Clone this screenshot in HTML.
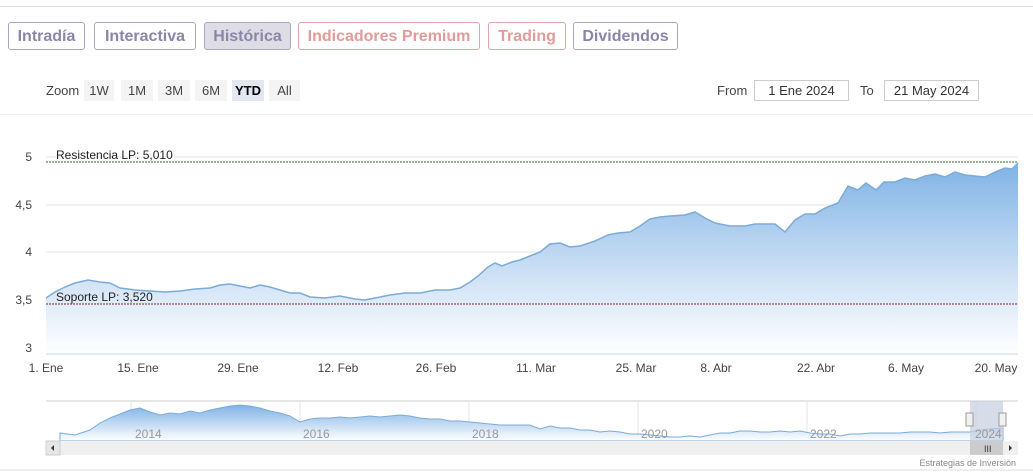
<!DOCTYPE html>
<html><head><meta charset="utf-8"><style>
body{margin:0;width:1033px;height:476px;background:#fff;font-family:"Liberation Sans",sans-serif;position:relative;overflow:hidden}
.tab{position:absolute;top:22px;height:28px;border:1px solid #a9a5be;border-radius:3px;font-size:16px;font-weight:bold;line-height:28px;text-align:center;color:#8a86aa;box-sizing:border-box}
.r{border-color:#e0a5a5;color:#e29a9a}
.z{position:absolute;top:80px;height:21px;background:#f4f4f4;font-size:13px;line-height:21px;text-align:center;color:#444}
.lbl{position:absolute;font-size:13px;color:#444}
.box{position:absolute;top:80px;height:21px;border:1px solid #ccc;font-size:13px;line-height:20px;text-align:center;box-sizing:border-box;color:#333}
</style></head><body>
<div style="position:absolute;left:0;top:6px;width:1033px;height:1px;background:#ddd"></div>
<div class="tab" style="left:8px;width:77px">Intradía</div>
<div class="tab" style="left:94px;width:102px">Interactiva</div>
<div class="tab" style="left:204px;width:87px;background:#dedde6">Histórica</div>
<div class="tab r" style="left:298px;width:182px">Indicadores Premium</div>
<div class="tab r" style="left:488px;width:78px">Trading</div>
<div class="tab" style="left:573px;width:105px">Dividendos</div>
<div class="lbl" style="left:46px;top:83px">Zoom</div>
<div class="z" style="left:84px;width:30px">1W</div>
<div class="z" style="left:121px;width:32px">1M</div>
<div class="z" style="left:158px;width:32px">3M</div>
<div class="z" style="left:195px;width:32px">6M</div>
<div class="z" style="left:232px;width:32px;background:#e2e7f0;font-weight:bold;color:#000">YTD</div>
<div class="z" style="left:269px;width:31px">All</div>
<div class="lbl" style="left:717px;top:83px">From</div>
<div class="box" style="left:754px;width:95px">1 Ene 2024</div>
<div class="lbl" style="left:860px;top:83px">To</div>
<div class="box" style="left:884px;width:95px">21 May 2024</div>
<div style="position:absolute;left:0;top:114px;width:1033px;height:1px;background:#eee"></div>
<svg width="1033" height="476" style="position:absolute;left:0;top:0" font-family="Liberation Sans,sans-serif">
<defs><linearGradient id="g" x1="0" y1="0" x2="0" y2="1"><stop offset="0" stop-color="#7fb2e5"/><stop offset="1" stop-color="#fff" stop-opacity="0.9"/></linearGradient>
<linearGradient id="g2" x1="0" y1="0" x2="0" y2="1"><stop offset="0" stop-color="#7fb2e5"/><stop offset="1" stop-color="#fff"/></linearGradient></defs>
<g stroke="#e6e6e6"><line x1="46" x2="1018" y1="157" y2="157"/><line x1="46" x2="1018" y1="205" y2="205"/><line x1="46" x2="1018" y1="252" y2="252"/><line x1="46" x2="1018" y1="300" y2="300"/><line x1="46" x2="1018" y1="348" y2="348"/></g>
<g font-size="12" fill="#444" text-anchor="end"><text x="32" y="161">5</text><text x="32" y="209">4,5</text><text x="32" y="256">4</text><text x="32" y="304">3,5</text><text x="32" y="352">3</text></g>
<path fill="url(#g)" d="M46,298 L55,292 65,287 75,283 88,280 100,282 110,283 120,288 135,290 150,291 165,292 180,291 195,289 210,288 220,285 230,284 240,286 250,288 260,285 270,287 280,290 290,293 300,293 310,297 325,298 340,296 355,299 365,300 375,298 390,295 405,293 420,293 435,290 450,290 460,288 470,282 478,276 488,267 495,263 502,266 512,262 520,260 530,256 540,252 550,244 560,243 570,247 580,246 595,241 608,235 618,233 630,232 640,226 650,219 660,217 670,216 685,215 695,212 705,218 715,223 730,226 745,226 755,224 765,224 775,224 785,232 795,220 805,214 815,214 825,208 838,203 848,186 858,190 866,183 876,190 884,182 895,182 905,178 915,180 925,176 935,174 945,177 955,172 965,175 975,176 985,177 995,172 1005,168 1012,169 1018,163 L1018,354 L46,354Z"/>
<path fill="none" stroke="#7cabd9" stroke-width="1.5" d="M46,298 L55,292 65,287 75,283 88,280 100,282 110,283 120,288 135,290 150,291 165,292 180,291 195,289 210,288 220,285 230,284 240,286 250,288 260,285 270,287 280,290 290,293 300,293 310,297 325,298 340,296 355,299 365,300 375,298 390,295 405,293 420,293 435,290 450,290 460,288 470,282 478,276 488,267 495,263 502,266 512,262 520,260 530,256 540,252 550,244 560,243 570,247 580,246 595,241 608,235 618,233 630,232 640,226 650,219 660,217 670,216 685,215 695,212 705,218 715,223 730,226 745,226 755,224 765,224 775,224 785,232 795,220 805,214 815,214 825,208 838,203 848,186 858,190 866,183 876,190 884,182 895,182 905,178 915,180 925,176 935,174 945,177 955,172 965,175 975,176 985,177 995,172 1005,168 1012,169 1018,163"/>
<line x1="46" x2="1018" y1="162" y2="162" stroke="#2a6a2a" stroke-dasharray="2,1"/>
<line x1="46" x2="1018" y1="304" y2="304" stroke="#8a1a1a" stroke-dasharray="2,1"/>
<text x="56" y="159" font-size="12" fill="#222">Resistencia LP: 5,010</text>
<text x="56" y="301" font-size="12" fill="#222">Soporte LP: 3,520</text>
<line x1="46" x2="1018" y1="354" y2="354" stroke="#ccd6eb"/>
<g font-size="12" fill="#444" text-anchor="middle"><text x="46" y="372">1. Ene</text><text x="138" y="372">15. Ene</text><text x="238" y="372">29. Ene</text><text x="338" y="372">12. Feb</text><text x="436" y="372">26. Feb</text><text x="536" y="372">11. Mar</text><text x="636" y="372">25. Mar</text><text x="716" y="372">8. Abr</text><text x="816" y="372">22. Abr</text><text x="906" y="372">6. May</text><text x="996" y="372">20. May</text></g>
<line x1="46" x2="1018" y1="401" y2="401" stroke="#ccc"/>
<g stroke="#e6e6e6"><line x1="131" x2="131" y1="401" y2="441"/><line x1="300" x2="300" y1="401" y2="441"/><line x1="469" x2="469" y1="401" y2="441"/><line x1="638" x2="638" y1="401" y2="441"/><line x1="807" x2="807" y1="401" y2="441"/><line x1="976" x2="976" y1="401" y2="441"/></g>
<path fill="url(#g2)" stroke="#7cabd9" d="M60,433 L75,435 90,430 100,423 110,418 120,414 130,410 140,408 150,412 160,415 170,413 180,414 190,411 200,413 210,410 220,408 230,406 240,405 250,406 260,408 270,411 280,413 290,416 300,422 310,419 320,418 330,418 340,417 350,418 360,417 370,416 380,417 390,416 400,415 410,416 420,418 430,419 440,419 450,421 460,421 470,422 480,423 490,424 500,425 510,425 520,425 530,425 540,429 550,426 560,428 570,428 580,430 590,430 600,432 610,431 620,432 630,434 640,434 650,435 660,436 670,437 680,437 690,436 700,437 710,435 720,433 730,433 740,431 750,431 760,432 770,432 780,431 790,432 800,431 810,433 820,434 830,434 840,436 850,434 860,434 870,433 880,433 890,433 900,433 910,432 920,432 930,432 940,433 950,432 960,432 970,432 980,430 990,429 1003,428 L1003,441 L60,441Z"/>
<rect x="970" y="401" width="33" height="40" fill="#c5cfe0" opacity="0.7"/>
<rect x="966" y="413" width="7" height="13" fill="#f2f2f2" stroke="#999"/><rect x="999" y="413" width="7" height="13" fill="#f2f2f2" stroke="#999"/>
<g font-size="12" fill="#999"><text x="135" y="438">2014</text><text x="303" y="438">2016</text><text x="472" y="438">2018</text><text x="641" y="438">2020</text><text x="810" y="438">2022</text><text x="975" y="438">2024</text></g>
<rect x="46" y="441" width="972" height="14" fill="#f0f0f0"/>
<rect x="46" y="441" width="14" height="14" fill="#e6e6e6" stroke="#ccc"/>
<rect x="970" y="441" width="33" height="14" fill="#ccc"/>
<text x="984" y="452" font-size="9" fill="#333">III</text>
<path d="M54,445 l-3,3 3,3Z M1009,445 l3,3 -3,3Z" fill="#333"/>
<text x="1016" y="466" font-size="9" fill="#888" text-anchor="end">Estrategias de Inversión</text>
<line x1="0" x2="1033" y1="470" y2="470" stroke="#ddd"/>
</svg>
</body></html>
